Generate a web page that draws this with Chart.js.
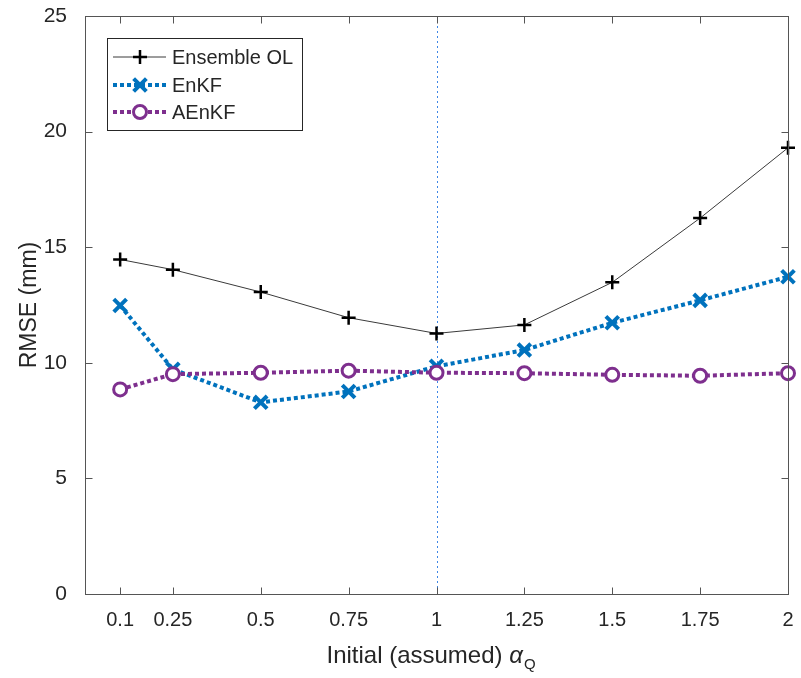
<!DOCTYPE html>
<html>
<head>
<meta charset="utf-8">
<script src="https://cdn.jsdelivr.net/npm/chart.js@4"></script>
<style>
  html, body { margin: 0; padding: 0; background: #fff; }
  #wrap { width: 801px; height: 678px; }
</style>
</head>
<body>
<div id="wrap"><canvas id="rmseChart" width="801" height="678"></canvas></div>
<script>
// values
const alphaQ = [0.1, 0.25, 0.5, 0.75, 1, 1.25, 1.5, 1.75, 2];
const ensembleOL = [14.47, 14.03, 13.06, 11.95, 11.27, 11.64, 13.48, 16.26, 19.30];
const enkf = [12.48, 9.72, 8.29, 8.76, 9.85, 10.55, 11.73, 12.70, 13.72];
const aenkf = [8.85, 9.51, 9.57, 9.66, 9.57, 9.55, 9.48, 9.44, 9.55];
const xTickValues = [0.1, 0.25, 0.5, 0.75, 1, 1.25, 1.5, 1.75, 2];
const yTickValues = [0, 5, 10, 15, 20, 25];
const refAlpha = 1;

const FONT = "'Liberation Sans', Arial, sans-serif";
const AXIS = '#555555';
const TEXT = '#262626';

function toPoints(ys) {
    return alphaQ.map((x, i) => ({ x: x, y: ys[i] }));
}

// legend marker drawn by hand so it matches the plotted ones
function legendMarker(ctx, ds, cx, cy) {
    ctx.save();
    ctx.fillStyle = ds.pointBackgroundColor;
    ctx.strokeStyle = ds.pointBorderColor;
    ctx.lineWidth = ds.pointBorderWidth;
    ctx.setLineDash([]);
    ctx.beginPath();
    const r = ds.pointRadius;
    if (ds.pointStyle === 'circle') {
        ctx.arc(cx, cy, r, 0, Math.PI * 2);
        ctx.fill();
    } else if (ds.pointStyle === 'cross') {
        ctx.moveTo(cx - r, cy); ctx.lineTo(cx + r, cy);
        ctx.moveTo(cx, cy - r); ctx.lineTo(cx, cy + r);
    } else {
        const d = r * Math.SQRT1_2;
        ctx.moveTo(cx - d, cy - d); ctx.lineTo(cx + d, cy + d);
        ctx.moveTo(cx - d, cy + d); ctx.lineTo(cx + d, cy - d);
    }
    ctx.stroke();
    ctx.restore();
}

// dotted reference line at alpha = 1, axes box with inward ticks, legend, x title
const matlabLook = {
    id: 'matlabLook',
    beforeDatasetsDraw(chart) {
        const ctx = chart.ctx, a = chart.chartArea;
        const px = Math.round(chart.scales.x.getPixelForValue(refAlpha)) + 0.5;
        ctx.save();
        ctx.strokeStyle = '#3d86e6';
        ctx.lineWidth = 1;
        ctx.setLineDash([2, 3]);
        ctx.beginPath();
        ctx.moveTo(px, a.top);
        ctx.lineTo(px, a.bottom);
        ctx.stroke();
        ctx.restore();
    },
    afterDraw(chart) {
        const ctx = chart.ctx, a = chart.chartArea;
        const xs = chart.scales.x, ys = chart.scales.y;
        const L = Math.round(a.left) + 0.5, R = Math.round(a.right) + 0.5;
        const T = Math.round(a.top) + 0.5, B = Math.round(a.bottom) + 0.5;
        ctx.save();
        ctx.strokeStyle = AXIS;
        ctx.lineWidth = 1;
        ctx.strokeRect(L, T, R - L, B - T);
        ctx.beginPath();
        xTickValues.forEach(v => {
            const p = Math.round(xs.getPixelForValue(v)) + 0.5;
            ctx.moveTo(p, B); ctx.lineTo(p, B - 7);
            ctx.moveTo(p, T); ctx.lineTo(p, T + 7);
        });
        yTickValues.forEach(v => {
            const p = Math.round(ys.getPixelForValue(v)) + 0.5;
            ctx.moveTo(L, p); ctx.lineTo(L + 7, p);
            ctx.moveTo(R, p); ctx.lineTo(R - 7, p);
        });
        ctx.stroke();

        // legend
        const lx = 107.5, ly = 38.5, lw = 195, lh = 92;
        ctx.fillStyle = '#fff';
        ctx.fillRect(lx, ly, lw, lh);
        ctx.strokeStyle = TEXT;
        ctx.strokeRect(lx, ly, lw, lh);
        const rows = [57, 85, 112];
        chart.data.datasets.forEach((ds, i) => {
            const y = rows[i];
            ctx.save();
            ctx.strokeStyle = ds.borderColor;
            ctx.lineWidth = ds.borderWidth;
            ctx.setLineDash(ds.borderDash || []);
            ctx.beginPath();
            ctx.moveTo(113, y); ctx.lineTo(166, y);
            ctx.stroke();
            ctx.restore();
            legendMarker(ctx, ds, 140, y);
            ctx.fillStyle = TEXT;
            ctx.font = '20px ' + FONT;
            ctx.textAlign = 'left';
            ctx.textBaseline = 'middle';
            ctx.fillText(ds.label, 172, y + 1);
        });

        // x axis title: Initial (assumed) alpha_Q
        const main = 'Initial (assumed) ';
        ctx.font = '24px ' + FONT;
        const w1 = ctx.measureText(main).width;
        ctx.font = 'italic 24px ' + FONT;
        const w2 = ctx.measureText('\u03B1').width;
        ctx.font = '15px ' + FONT;
        const w3 = ctx.measureText('Q').width;
        let x0 = xs.getPixelForValue(refAlpha) - 6 - (w1 + w2 + w3) / 2;
        const yb = 663;
        ctx.fillStyle = TEXT;
        ctx.textAlign = 'left';
        ctx.textBaseline = 'alphabetic';
        ctx.font = '24px ' + FONT;
        ctx.fillText(main, x0, yb);
        ctx.font = 'italic 24px ' + FONT;
        ctx.fillText('\u03B1', x0 + w1, yb);
        ctx.font = '15px ' + FONT;
        ctx.fillText('Q', x0 + w1 + w2 + 1, yb + 6);
        ctx.restore();
    }
};

const ctx = document.getElementById('rmseChart').getContext('2d');
const rmseChart = new Chart(ctx, {
    type: 'line',
    data: {
        datasets: [{
            label: 'Ensemble OL',
            data: toPoints(ensembleOL),
            borderColor: '#3a3a3a',
            borderWidth: 1,
            pointStyle: 'cross',
            pointRadius: 7,
            pointBorderWidth: 2.5,
            pointBorderColor: '#000000',
            pointBackgroundColor: '#000000',
            order: 2
        }, {
            label: 'EnKF',
            data: toPoints(enkf),
            borderColor: '#0072BD',
            borderWidth: 4,
            borderDash: [4, 3],
            pointStyle: 'crossRot',
            pointRadius: 9,
            pointBorderWidth: 4,
            pointBorderColor: '#0072BD',
            pointBackgroundColor: '#0072BD',
            order: 1
        }, {
            label: 'AEnKF',
            data: toPoints(aenkf),
            borderColor: '#7E2F8E',
            borderWidth: 4,
            borderDash: [4, 3],
            pointStyle: 'circle',
            pointRadius: 6.5,
            pointBorderWidth: 3,
            pointBorderColor: '#7E2F8E',
            pointBackgroundColor: '#ffffff',
            order: 0
        }]
    },
    options: {
        responsive: false,
        animation: false,
        clip: false,
        layout: { padding: { top: 16, right: 13, left: 0, bottom: 0 } },
        plugins: {
            legend: { display: false },
            tooltip: { enabled: false }
        },
        scales: {
            x: {
                type: 'linear',
                min: 0,
                max: 2,
                afterBuildTicks: s => { s.ticks = xTickValues.map(v => ({ value: v })); },
                afterFit: s => { s.height = 84; s.paddingLeft = 0; s.paddingRight = 0; },
                grid: { display: false },
                border: { display: false },
                ticks: {
                    autoSkip: false,
                    maxRotation: 0,
                    padding: 6,
                    color: TEXT,
                    font: { family: FONT, size: 20 },
                    callback: v => String(v)
                }
            },
            y: {
                min: 0,
                max: 25,
                afterBuildTicks: s => { s.ticks = yTickValues.map(v => ({ value: v })); },
                afterFit: s => { s.width = 85; s.paddingTop = 0; s.paddingBottom = 0; },
                grid: { display: false },
                border: { display: false },
                title: {
                    display: true,
                    text: 'RMSE (mm)',
                    color: TEXT,
                    font: { family: FONT, size: 23 },
                    padding: { top: 16, bottom: 0 }
                },
                ticks: {
                    padding: 10,
                    color: TEXT,
                    font: { family: FONT, size: 21 }
                }
            }
        }
    },
    plugins: [matlabLook]
});
</script>
</body>
</html>
